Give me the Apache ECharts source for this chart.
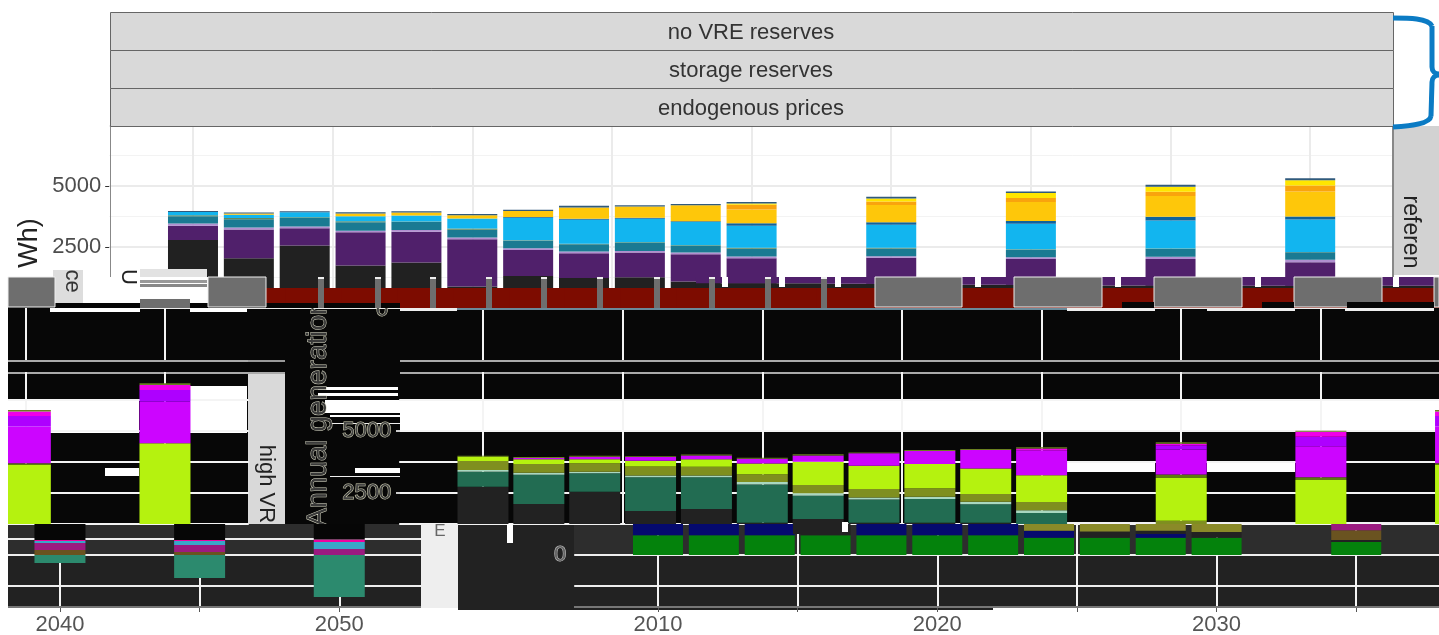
<!DOCTYPE html>
<html>
<head>
<meta charset="utf-8">
<title>Annual generation</title>
<style>
html, body { margin: 0; padding: 0; background: #fff; }
#chart { width: 1439px; height: 635px; }
</style>
<script src="https://cdn.jsdelivr.net/npm/echarts@6/dist/echarts.min.js"></script>
</head>
<body>
<div id="chart"></div>
<script>
let years = [2010, 2012, 2014, 2016, 2018, 2020, 2022, 2024, 2026, 2028, 2030, 2035, 2040, 2045, 2050];

// upper facet, bottom to top
let maroon = [815, 815, 815, 815, 815, 815, 815, 815, 815, 815, 815, 815, 815, 815, 815];
let coal = [1970, 1225, 1750, 925, 1045, 70, 500, 410, 450, 270, 200, 180, 135, 110, 100];
let purple = [585, 1180, 705, 1360, 1265, 1930, 1060, 1020, 1005, 1115, 1020, 1060, 1060, 1085, 965];
let lilac = [95, 80, 70, 70, 70, 70, 70, 70, 70, 70, 80, 70, 70, 95, 95];
let teal = [300, 340, 350, 340, 325, 325, 310, 300, 325, 270, 310, 310, 310, 310, 315];
let oliveLine = [40, 50, 30, 50, 30, 50, 20, 20, 30, 30, 40, 30, 20, 20, 10];
let sky = [135, 135, 200, 200, 245, 410, 925, 980, 965, 950, 910, 950, 1045, 1155, 1330];
let deepBlue = [0, 0, 0, 0, 0, 0, 30, 40, 40, 40, 95, 100, 110, 150, 120];
let gold = [0, 50, 0, 110, 120, 135, 245, 460, 460, 650, 570, 705, 775, 855, 1030];
let orange = [0, 0, 0, 0, 0, 0, 0, 0, 0, 0, 190, 150, 165, 175, 245];
let yellow = [0, 0, 0, 0, 0, 0, 0, 0, 0, 0, 50, 120, 205, 205, 215];
let slate = [40, 40, 50, 50, 50, 50, 50, 80, 50, 50, 65, 65, 65, 80, 80];

// lower facet, bottom to top
let green = [800, 800, 800, 800, 800, 800, 800, 700, 700, 700, 700, 520, 0, 0, 0];
let navy = [450, 450, 450, 0, 450, 450, 450, 280, 0, 160, 0, 0, 0, 0, 0];
let lowDark = [0, 0, 0, 450, 0, 0, 0, 0, 250, 120, 230, 80, 0, 0, 0];
let lowOlive = [0, 0, 0, 0, 0, 0, 0, 270, 300, 270, 320, 0, 0, 0, 0];
let lowBrown = [0, 0, 0, 0, 0, 0, 0, 0, 0, 0, 0, 400, 200, 120, 0];
let lowPlum = [0, 0, 0, 0, 0, 0, 0, 0, 0, 0, 0, 250, 280, 280, 240];
let lowBlue = [0, 0, 0, 0, 0, 0, 0, 0, 0, 0, 0, 0, 80, 160, 280];
let lowPink = [0, 0, 0, 0, 0, 0, 0, 0, 0, 0, 0, 0, 40, 40, 100];
let lowBlack = [0, 0, 0, 0, 0, 0, 0, 0, 0, 0, 0, 0, 650, 650, 630];
let storage = [0, 0, 0, 0, 0, 0, 0, 0, 0, 0, 0, 0, -320, -930, -1690];
let dark = [1505, 806, 1300, 525, 605, 50, 200, 50, 50, 50, 0, 0, 0, 0, 0];
let forest = [605, 1180, 740, 1360, 1275, 1545, 940, 940, 955, 750, 445, 0, 0, 0, 0];
let mint = [70, 80, 70, 70, 70, 100, 95, 80, 95, 95, 105, 0, 0, 0, 0];
let olive = [360, 350, 340, 360, 360, 310, 340, 340, 340, 310, 340, 135, 0, 0, 0];
let lime = [175, 190, 160, 230, 295, 430, 930, 940, 980, 1035, 1075, 1720, 1775, 2380, 3250];
let limeEdge = [0, 0, 0, 0, 0, 0, 0, 0, 0, 0, 0, 135, 105, 65, 0];
let magenta = [0, 50, 100, 150, 160, 190, 255, 500, 525, 740, 1010, 1010, 1250, 1480, 1680];
let violet = [0, 0, 0, 0, 0, 0, 0, 0, 0, 0, 0, 175, 390, 430, 470];
let pink = [0, 0, 0, 0, 0, 0, 0, 0, 0, 0, 65, 60, 200, 175, 200];
let capOlive = [40, 40, 40, 40, 40, 40, 50, 30, 40, 40, 50, 60, 40, 60, 70];

let stripLabels = ['no VRE reserves', 'storage reserves', 'endogenous prices'];
let sideLabels = ['referen', 'high VR'];

let upperLayers = [
    [maroon, '#7d0c00'], [coal, '#212121'], [purple, '#50206b'], [lilac, '#b08fd0'],
    [teal, '#1a7a92'], [oliveLine, '#5f8a60'], [sky, '#12b5ef'], [deepBlue, '#10639c'],
    [gold, '#fec70a'], [orange, '#f9a40d'], [yellow, '#ffe600'], [slate, '#305a7c']
];
let lowerLayers = [
    [green, '#04820c'], [navy, '#050a6e'], [lowDark, '#222222'], [lowOlive, '#8a8a28'],
    [lowBrown, '#6a5320'], [lowPlum, '#9b1a80'], [lowBlue, '#3aa5c8'], [lowPink, '#f000a0'],
    [lowBlack, '#060606'], [dark, '#222222'], [forest, '#226c52'], [mint, '#a8d8c0'],
    [olive, '#7f8f1f'], [lime, '#b5f20f'], [limeEdge, '#5d7a10'], [magenta, '#cc05ff'],
    [violet, '#ae00ff'], [pink, '#f000e8'], [capOlive, '#6a8020'], [storage, '#2c8a6e']
];

let yearPx = 27.93;
let fontName = '"Liberation Sans", Arial, sans-serif';
let black = '#070707';
let grey = '#6e6e6e';

function yearRange(from, to) {
    let list = [];
    for (let y = from; y <= to; y++) {
        list.push(String(y));
    }
    return list;
}

function everyFive(index, value) {
    return Number(value) % 5 === 0;
}

let grids = [], xAxes = [], yAxes = [], series = [];

// left is where the first category sits, one grid for every cut of the picture
function addGrid(left, top, height, from, to, lineColor, yOption) {
    let cats = yearRange(from, to);
    grids.push({left: left, top: top, height: height, width: (to - from) * yearPx, outerBoundsMode: 'none'});
    xAxes.push({
        type: 'category', gridIndex: grids.length - 1, data: cats, boundaryGap: false,
        axisLine: {show: false}, axisTick: {show: false}, axisLabel: {show: false},
        splitLine: {show: !!lineColor, interval: everyFive, lineStyle: {color: lineColor, width: 2}}
    });
    yAxes.push(Object.assign({
        type: 'value', gridIndex: grids.length - 1,
        axisLine: {show: false}, axisTick: {show: false}, axisLabel: {show: false}, splitLine: {show: false}
    }, yOption));
    return grids.length - 1;
}

function addBars(gridIndex, layers, width, z) {
    let cats = xAxes[gridIndex].data;
    layers.forEach(function (layer) {
        let points = [];
        years.forEach(function (year, i) {
            if (cats.indexOf(String(year)) >= 0) {
                points.push([String(year), layer[0][i]]);
            }
        });
        series.push({
            type: 'bar', xAxisIndex: gridIndex, yAxisIndex: gridIndex, stack: 'g' + gridIndex,
            barWidth: width, data: points, z: z, silent: true, animation: false,
            itemStyle: {color: layer[1]}
        });
    });
}

function rowLabel(value) {
    return value === 2500 || value === 5000 ? String(value) : '';
}

let whiteLines = {show: true, showMaxLine: false, lineStyle: {color: '#f4f4f4', width: 2}};

// top facet
let topPanel = addGrid(109.2, 126, 182, 2007, 2053, '#ebebeb', {
    min: 0, max: 7460, interval: 2500,
    axisLabel: {show: true, formatter: rowLabel, color: '#4d4d4d', fontSize: 22, fontFamily: fontName, margin: 8, showMaxLabel: false},
    axisTick: {show: true, length: 4, lineStyle: {color: '#333'}},
    splitLine: {show: true, lineStyle: {color: '#ebebeb', width: 2}},
    minorTick: {show: false, splitNumber: 2},
    minorSplitLine: {show: true, lineStyle: {color: '#f3f3f3', width: 1}}
});
addBars(topPanel, upperLayers, 50, 2);

// squeezed strips across the bottom of the top facet
let maroonBand = addGrid(109.2, 288, 20, 2007, 2053, null, {min: 0, max: 820});
addBars(maroonBand, upperLayers.slice(0, 1), 150, 3);
let purpleBand = addGrid(723.9, 277, 11, 2029, 2053, null, {min: 820, max: 1271});
addBars(purpleBand, upperLayers.slice(0, 3), 140, 4);
let wrapBand = addGrid(1382, 277, 31, 2049, 2053, null, {min: 0, max: 1271});
addBars(wrapBand, upperLayers.slice(0, 3), 140, 4);

// black rows of the lower facet
addGrid(399.2, 308, 52, 2007, 2045, '#f4f4f4', {min: 0, max: 100});
addGrid(-2.6, 308, 52, 2044, 2053, '#f4f4f4', {min: 0, max: 100});

let midRight = addGrid(399.2, 372, 152, 2007, 2045, '#f4f4f4', {
    min: 1250, max: 7375, interval: 1250, splitLine: whiteLines,
    axisLabel: {
        show: true, formatter: rowLabel, color: '#444', fontSize: 22, fontFamily: fontName, margin: 8,
        textBorderColor: '#d6d6b8', textBorderWidth: 1, showMaxLabel: false
    }
});
addBars(midRight, lowerLayers, 51, 2);
let midLeft = addGrid(-2.6, 372, 152, 2044, 2053, '#f4f4f4', {
    min: 1250, max: 7375, interval: 1250, splitLine: whiteLines
});
addBars(midLeft, lowerLayers, 51, 2);

// bottom rows, zero sits inside them
let lowLines = {show: true, showMaxLine: false, lineStyle: {color: '#eeeeee', width: 2}};
let lowRight = addGrid(574.2, 524, 93, 2007, 2038, '#f4f4f4', {
    min: -2500, max: 1250, interval: 1250, splitLine: lowLines,
    axisLabel: {
        show: true, formatter: function (v) { return v === 0 ? '0' : ''; },
        color: '#666', fontSize: 22, fontFamily: fontName, margin: 8,
        textBorderColor: '#c8c8c8', textBorderWidth: 1
    }
});
addBars(lowRight, lowerLayers, 50, 2);
let lowLeft = addGrid(4.1, 524, 93, 2038, 2053, '#f4f4f4', {
    min: -2500, max: 1250, interval: 1250, splitLine: lowLines
});
addBars(lowLeft, lowerLayers, 51, 2);

// year axes only
[[574.2, 2007, 2038], [4.1, 2038, 2053]].forEach(function (a) {
    let idx = addGrid(a[0], 600, 8, a[1], a[2], null, {min: 0, max: 1});
    xAxes[idx].z = 60;
    xAxes[idx].axisTick = {show: true, length: 4, interval: everyFive, lineStyle: {color: '#555'}};
    xAxes[idx].axisLabel = {
        show: true, interval: 0, hideOverlap: false, color: '#555', fontSize: 22, fontFamily: fontName, margin: 6,
        formatter: function (value) { return Number(value) % 10 === 0 ? value : ''; }
    };
});

function box(x, y, w, h, color, z, stroke) {
    return {
        type: 'rect', z: z, silent: true,
        shape: {x: x, y: y, width: w, height: h},
        style: stroke ? {fill: color, stroke: stroke, lineWidth: 1} : {fill: color}
    };
}

function label(text, x, y, size, color, z, rotation, outline) {
    let style = {text: text, fill: color, font: size + 'px ' + fontName, textAlign: 'center', textVerticalAlign: 'middle'};
    if (outline) {
        style.stroke = outline;
        style.lineWidth = 1;
    }
    return {type: 'text', x: x, y: y, rotation: rotation || 0, z: z, silent: true, style: style};
}

let backPatches = [
    [8, 303, 392, 221, black], [400, 308, 1039, 216, black],
    [400, 400, 1039, 32, '#ffffff'], [8, 400, 131, 33, '#ffffff'], [190, 386, 57, 47, '#ffffff'],
    [8, 360, 240, 2, '#aaaaaa'], [400, 360, 1039, 2, '#aaaaaa'], [8, 372, 277, 2, '#aaaaaa'], [400, 372, 1039, 2, '#aaaaaa'],
    [248, 360, 37, 2, '#999999'],
    [1067, 462, 88, 10, '#ffffff'], [1207, 462, 88, 10, '#ffffff'], [105, 468, 34, 8, '#ffffff'],
    [318, 387, 80, 3, '#ffffff'], [318, 393, 80, 3, '#ffffff'], [325, 400, 75, 13, '#ffffff'],
    [330, 415, 70, 2, '#ffffff'], [330, 423, 70, 1, '#eeeeee'], [355, 468, 45, 5, '#ffffff'], [330, 476, 70, 1, '#eeeeee'],
    [1067, 522, 372, 2, '#f0f0f0'],
    [8, 524, 413, 31, '#2d2d2d'], [8, 555, 413, 53, '#222222'], [458, 524, 116, 84, '#222222'],
    [574, 524, 865, 31, '#2d2d2d'], [574, 555, 865, 53, '#222222'],
    [8, 538, 413, 2, '#eeeeee']
];
let frontPatches = [
    [0, 277, 8, 358, '#ffffff'], [55, 277, 153, 26, '#ffffff'], [53, 270, 30, 33, '#dddddd'],
    [140, 269, 67, 8, '#e2e2e2'], [140, 280, 67, 3, '#999999'], [140, 284, 67, 3, '#888888'],
    [50, 303, 90, 5, '#060606'], [140, 299, 50, 9, grey], [190, 303, 210, 5, '#060606'],
    [50, 308, 90, 4, '#ffffff'], [190, 308, 57, 4, '#ffffff'],
    [400, 308, 57, 3, '#eeeeee'], [457, 308, 610, 2, '#6a8a9a'], [1067, 308, 88, 3, '#eeeeee'],
    [1207, 308, 88, 3, '#eeeeee'], [1345, 308, 89, 3, '#eeeeee'],
    [421, 524, 37, 84, '#eeeeee'], [507, 524, 6, 19, '#ffffff'],
    [793, 519, 49, 15, '#222222'], [842, 522, 6, 10, '#ffffff'],
    [8, 606, 413, 2, '#777777'], [574, 606, 865, 2, '#777777'],
    [8, 608, 1431, 27, '#ffffff'], [458, 608, 535, 2, '#222222']
];
let greyCols = [318, 375, 430, 486, 541, 597, 654, 709, 765, 821];
let greyBlocks = [[8, 47], [208, 58], [875, 87], [1014, 88], [1154, 88], [1294, 88], [1434, 5]];
let notches = [722, 779, 835, 975, 1115, 1255, 1393];
let blackBits = [[1122, 32], [1262, 32], [1347, 87]];

let art = [];
backPatches.forEach(function (p) { art.push(box(p[0], p[1], p[2], p[3], p[4], -1)); });
art.push(box(248, 374, 37, 150, '#d9d9d9', -1));
art.push(label('Annual generation', 318, 413, 28, '#3a3a3a', 1, Math.PI / 2, '#d4d4c0'));
art.push(label(sideLabels[1], 266, 484, 22, '#222', 1, -Math.PI / 2));
art.push(label('0', 382, 310, 22, '#444', 1, 0, '#d6d6b8'));
art.push(box(396, 430, 4, 2, '#cccccc', 1), box(396, 492, 4, 2, '#cccccc', 1));

frontPatches.forEach(function (p) { art.push(box(p[0], p[1], p[2], p[3], p[4], 50)); });
notches.forEach(function (x) { art.push(box(x, 277, 6, 10, '#ffffff', 50)); });
greyCols.forEach(function (x) {
    art.push(box(x, 279, 6, 29, grey, 51), box(x, 277, 6, 2, '#eeeeee', 51));
});
greyBlocks.forEach(function (b) { art.push(box(b[0], 277, b[1], 30, grey, 51, '#eeeeee')); });
blackBits.forEach(function (b) { art.push(box(b[0], 302, b[1], 6, '#060606', 52)); });
art.push(label('ce', 72, 281, 22, '#333', 53, -Math.PI / 2));
art.push(label('U', 128, 277, 22, '#222', 53, -Math.PI / 2));
art.push(label('E', 440, 531, 17, '#666', 53));

// title strips, side strip and the brace
art.push(box(1393, 126, 46, 149, '#d2d2d2', 5));
art.push(label(sideLabels[0], 1410, 232, 23, '#222', 6, -Math.PI / 2));
art.push(box(110, 126, 1, 151, '#888888', 5), box(1392, 126, 2, 151, '#888888', 5));
stripLabels.forEach(function (text, i) {
    art.push(box(110.5, 12.5 + i * 38, 1283, 38, '#d9d9d9', 5, '#666666'));
    art.push(label(text, 751, 32.5 + i * 38, 22, '#333333', 6));
});
art.push(label('Wh)', 30, 243, 27, '#222', 6, Math.PI / 2));

let braceStroke = {stroke: '#0b7bc4', lineWidth: 5, fill: 'none'};
[
    [1393, 18, 1408, 18, 1428, 18, 1432, 26],
    [1432, 67, 1432, 71, 1435, 74, 1439, 74],
    [1439, 75, 1435, 75, 1432, 78, 1432, 82],
    [1431, 116, 1430, 124, 1410, 126, 1393, 127]
].forEach(function (c) {
    art.push({
        type: 'bezierCurve', z: 20, silent: true,
        shape: {x1: c[0], y1: c[1], cpx1: c[2], cpy1: c[3], cpx2: c[4], cpy2: c[5], x2: c[6], y2: c[7]},
        style: braceStroke
    });
});
art.push({type: 'line', z: 20, silent: true, shape: {x1: 1432, y1: 26, x2: 1432, y2: 67}, style: braceStroke});
art.push({type: 'line', z: 20, silent: true, shape: {x1: 1432, y1: 82, x2: 1431, y2: 116}, style: braceStroke});

let myChart = echarts.init(document.getElementById('chart'));
myChart.setOption({
    animation: false,
    backgroundColor: '#ffffff',
    graphic: {elements: art},
    grid: grids,
    xAxis: xAxes,
    yAxis: yAxes,
    series: series
});
</script>
</body>
</html>
